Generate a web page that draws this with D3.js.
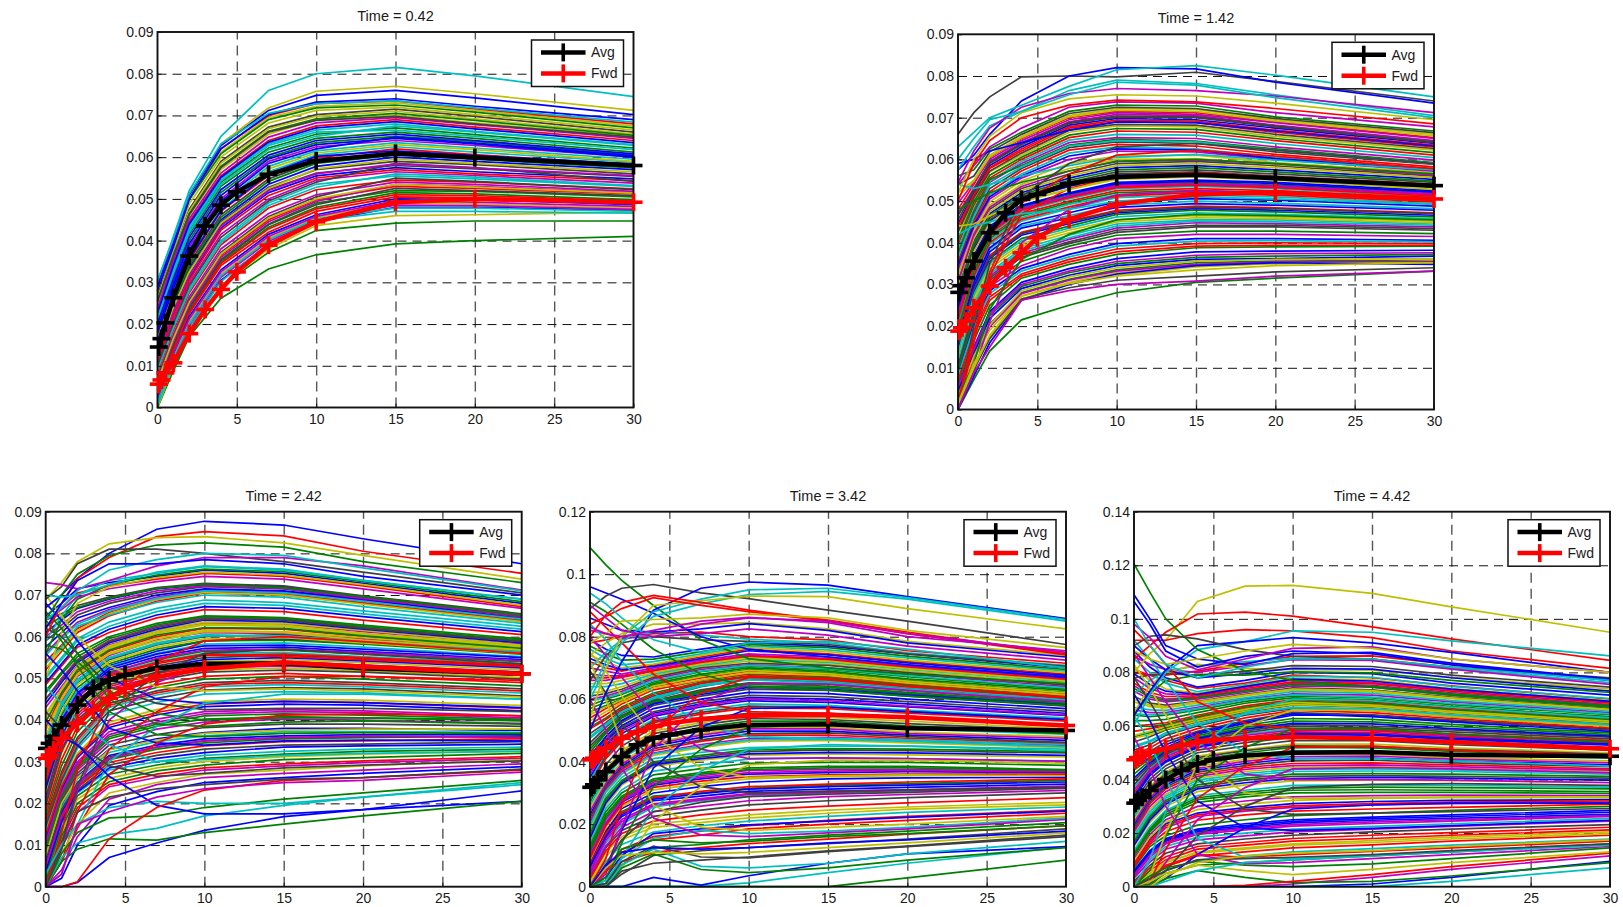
<!DOCTYPE html>
<html>
<head>
<meta charset="utf-8">
<title>Forward curves</title>
<script src="https://cdn.jsdelivr.net/npm/d3@7"></script>
<style>
  body { margin: 0; background: #fff; }
  text { font-family: "Liberation Sans", Arial, sans-serif; font-size: 14px; fill: #1a1a1a; }
  .title { font-size: 14.5px; }
  .grid-h line { stroke: #111; stroke-dasharray: 9 6; stroke-width: 1; }
  .grid-v line { stroke: #555; stroke-dasharray: 10 6; stroke-width: 1.4; }
  .grid-h path, .grid-v path { display: none; }
  .axis path { display: none; }
  .axis line { stroke: #111; }
  .thin { fill: none; stroke-width: 1.7; }
  .frame { fill: none; stroke: #111; stroke-width: 1.9; }
  .legend-box { fill: #fff; stroke: #111; stroke-width: 1.5; }
</style>
</head>
<body>
<svg id="chart" width="1623" height="907"></svg>
<script>
/* five panels of simulated curves, Avg and Fwd on top. thin curves are in units of 1e-4 */

const times = ['0.42', '1.42', '2.42', '3.42', '4.42'];

// maturities of the thick lines and of the thin curves
const avgTenors = [0.08, 0.25, 0.5, 1, 2, 3, 4, 5, 7, 10, 15, 20, 30];
const curveTenors = [0, 1, 2, 4, 7, 10, 15, 20, 30];
const xTicks = [0, 5, 10, 15, 20, 25, 30];

const yTicksA = [0, 0.01, 0.02, 0.03, 0.04, 0.05, 0.06, 0.07, 0.08, 0.09];
const yTicksD = [0, 0.02, 0.04, 0.06, 0.08, 0.1, 0.12];
const yTicksE = [0, 0.02, 0.04, 0.06, 0.08, 0.1, 0.12, 0.14];

const avg1 = [.0145, .0165, .0203, .0263, .0363, .0435, .0485, .0517, .0559, .0591, .0609, .0599, .058];
const fwd1 = [.0056, .0066, .0083, .0107, .0177, .0235, .0283, .0325, .0389, .0445, .0492, .05, .0492];
const avg2 = [.0281, .0297, .0316, .0356, .0424, .0472, .0504, .0516, .0542, .0558, .0563, .0555, .0537];
const fwd2 = [.0188, .0196, .0212, .0244, .0296, .034, .0376, .0412, .0456, .0492, .0516, .0521, .0505];
const avg3 = [.0332, .0344, .036, .0388, .0436, .0476, .0496, .0508, .0524, .0535, .0536, .0524, .0511];
const fwd3 = [.0308, .0316, .0328, .0356, .0392, .0424, .0452, .0476, .0504, .0523, .0538, .0528, .0511];
const avg4 = [.0318, .0326, .0342, .0368, .0416, .0454, .0475, .0486, .0502, .0518, .052, .0507, .05];
const fwd4 = [.0406, .0411, .0422, .0443, .0475, .0496, .0512, .0523, .0536, .0547, .055, .0542, .0516];
const avg5 = [.0312, .0322, .0334, .0359, .04, .0434, .0459, .0474, .049, .05, .0503, .0493, .0487];
const fwd5 = [.0474, .0482, .049, .0503, .0515, .0528, .054, .0549, .0553, .0559, .0553, .054, .0515];

const curves1 = [
[140,245,335,450,535,578,600,590,570],[50,150,240,355,440,490,520,518,505],[230,345,445,555,640,675,690,672,640],
[95,195,285,400,490,535,555,548,530],[180,290,385,500,590,625,640,628,600],[15,120,205,320,405,455,490,488,478],
[270,370,475,590,672,702,715,698,660],[115,225,310,430,515,555,575,565,548],[205,318,415,530,612,645,660,645,612],
[30,135,225,340,420,470,505,503,492],[165,270,360,475,565,605,625,612,588],[75,175,265,380,465,510,540,535,518],
[245,360,460,570,655,690,700,682,650],[130,238,330,445,528,570,590,582,560],[5,105,190,305,390,445,480,480,472],
[195,300,400,515,600,635,650,638,605],[60,162,250,365,450,498,530,525,512],[220,335,435,548,632,665,680,662,630],
[105,210,298,415,500,545,565,556,538],[295,395,505,612,695,722,730,712,675],[150,258,345,462,548,590,610,600,578],
[20,128,218,330,415,462,500,498,486],[212,325,425,540,622,655,670,654,622],[85,185,275,390,478,522,545,540,524],
[172,280,372,488,578,615,635,622,595],[8,112,198,312,398,450,485,484,475],[262,372,470,585,668,698,710,692,655],
[122,230,318,438,522,562,580,572,554],[200,308,408,522,605,640,655,640,608],[40,142,232,348,432,480,515,512,498],
[158,262,352,470,556,598,620,606,582],[90,190,280,395,484,528,560,552,532],[238,352,452,562,648,682,695,678,645],
[135,240,325,442,525,572,595,585,565],[45,148,238,352,438,486,525,520,508],[188,295,392,508,596,630,645,632,600],
[255,366,464,578,662,692,705,688,652],[110,218,305,425,508,550,570,560,544],[215,328,428,544,628,660,665,650,618],
[25,130,212,325,410,458,495,492,482],[170,276,366,482,572,610,630,618,590],[70,168,258,372,458,505,550,542,522],
[225,340,440,552,636,670,685,668,635],[145,252,340,456,542,585,605,595,574],[35,138,228,345,428,476,510,508,495],
[215,322,420,535,618,650,675,660,628],[55,158,245,360,445,494,535,530,515],[280,382,488,600,682,712,720,702,665],
[100,202,292,408,495,540,585,575,542],[160,265,356,472,560,602,615,604,584],[290,390,498,608,690,718,725,708,670],
[300,400,510,620,700,728,735,716,680],[12,118,200,316,402,452,478,478,470],[120,228,315,435,520,560,584,574,556],
[62,165,252,368,454,500,535,528,514],[255,362,462,575,660,688,698,680,648],[178,285,378,495,585,620,648,634,603]
];
const curves1Top = [
[300,410,520,650,760,800,815,795,745],[280,400,505,632,718,758,770,752,712],[290,395,510,628,712,748,760,742,702],
[280,385,500,620,702,732,740,722,690],[305,405,512,632,705,728,735,718,684]
];
const curves1TopColors = ['c', 'y', 'b', 'b', 'c'];
const curves1Low = [
[0,88,170,262,332,366,392,400,410],[0,95,180,290,372,424,442,447,447],[0,100,185,292,380,436,460,462,468],
[5,105,190,302,392,448,470,470,466]
];
const curves1LowColors = ['g', 'g', 'y', 'c'];

const curves2 = [
[250,370,440,490,520,545,550,545,525],[35,130,205,280,312,335,352,356,358],[480,540,605,650,700,715,712,690,652],
[160,300,385,440,465,490,500,495,482],[90,215,295,345,385,410,420,420,415],[410,505,570,610,665,680,678,655,622],
[310,415,480,530,565,590,595,585,560],[60,150,235,305,338,362,378,380,382],[560,575,625,665,715,730,728,702,668],
[205,335,415,470,500,525,530,525,505],[120,255,330,385,418,445,455,455,445],[370,470,545,590,640,652,650,630,598],
[20,120,190,272,305,328,345,350,356],[280,395,460,510,545,570,575,565,545],[445,520,585,630,682,698,695,675,638],
[140,280,355,410,440,468,478,474,462],[75,190,270,325,360,385,398,400,398],[340,445,515,565,615,630,625,605,578],
[225,350,425,480,510,535,540,535,515],[520,550,610,655,705,722,720,695,660],[100,230,310,365,398,425,438,438,430],
[295,405,470,520,555,580,585,575,552],[50,140,225,295,328,350,365,368,372],[395,490,555,600,652,668,665,645,610],
[180,315,395,452,482,508,515,510,494],[470,530,595,640,690,708,705,682,645],[130,270,345,398,430,455,465,462,452],
[355,455,530,578,628,642,638,618,588],[265,385,452,502,535,562,565,555,535],[65,165,250,315,348,372,388,390,392],
[430,512,578,620,675,690,688,665,630],[195,325,405,460,492,515,522,518,500],[110,240,320,375,408,435,448,446,438],
[325,430,498,548,590,608,610,592,568],[540,560,618,660,710,725,722,698,664],[85,205,285,338,372,398,410,410,406],
[240,360,432,485,515,540,545,538,520],[150,290,370,425,452,478,488,484,472],[385,482,548,595,646,660,658,638,604],
[25,125,198,278,310,332,348,354,354],[300,410,475,525,560,585,590,580,556],[455,525,590,635,686,702,700,678,642],
[170,305,388,445,472,498,506,502,488],[95,222,302,355,392,418,428,428,422],[350,448,522,572,622,636,632,612,582],
[210,342,418,475,505,530,535,530,510],[495,545,600,645,695,712,708,688,650],[125,262,338,392,424,450,460,458,448],
[275,390,455,505,540,565,570,560,540],[45,135,218,290,322,345,360,362,368],[405,498,562,605,658,674,672,650,616],
[185,320,400,456,486,512,520,514,498],[80,198,278,332,366,392,404,405,402],[335,438,505,555,600,620,618,600,572],
[255,378,448,498,528,555,560,552,532],[425,508,572,615,670,684,682,660,626],[145,285,362,418,446,472,482,478,466],
[375,476,552,585,634,648,644,625,592],[215,345,422,478,508,532,538,532,512],[115,248,325,380,412,440,452,450,442],
[55,145,230,300,332,355,370,374,376],[320,425,490,540,578,600,602,588,564],[465,528,592,638,688,704,702,680,640],
[165,295,378,435,460,485,494,490,478],[285,400,465,515,550,575,580,570,548],[70,178,262,320,354,378,392,394,394],
[365,462,538,582,632,645,642,622,590],[235,355,428,482,512,538,542,536,518],[510,548,606,652,702,718,715,692,656],
[105,235,315,370,402,430,442,442,434],[345,442,510,560,608,625,622,602,575],[190,330,410,465,496,520,525,520,502],
[440,515,580,625,678,694,692,670,634],[135,275,350,405,435,462,472,468,458],[305,420,485,535,572,595,598,590,562],
[30,128,202,285,318,340,356,360,362],[155,288,366,422,450,475,485,482,470],[245,365,436,488,518,542,548,542,522],
[480,500,520,545,572,595,600,590,565],[0,160,320,470,530,560,568,558,540],[540,530,540,560,585,605,612,598,575],
[10,90,210,400,480,515,525,520,505],[440,445,465,500,528,552,558,550,528],[5,200,350,510,590,630,638,622,590],
[590,600,620,640,670,690,688,668,632],[30,110,240,360,420,455,468,465,455],[15,180,330,495,565,610,622,608,578],
[420,440,450,470,480,500,510,505,492],[540,585,630,675,725,738,735,712,678],[15,110,175,265,300,322,342,350,352]
];
const curves2Top = [
[660,712,750,798,800,798,809,787,740],[575,610,660,740,800,820,817,785,735],[630,665,700,730,775,815,825,802,750],
[575,630,680,715,765,790,782,755,705],[545,620,675,725,758,770,765,752,712],[520,600,655,712,745,755,752,735,695],
[600,650,695,715,755,785,778,748,700],[500,590,645,700,730,742,738,722,685]
];
const curves2TopColors = ['k', 'b', 'c', 'c', 'm', 'y', 'c', 'r'];
const curves2Low = [
[0,72,140,215,250,280,305,315,332],[0,80,160,262,300,325,345,352,348],[8,95,170,265,292,310,320,330,340],
[12,100,178,272,302,320,335,345,352],[0,88,150,262,285,300,308,320,332]
];
const curves2LowColors = ['g', 'b', 'k', 'y', 'm'];

const curves3 = [
[300,410,465,530,565,590,595,585,560],[60,180,240,305,330,345,355,358,362],[520,565,610,650,685,705,700,680,640],
[150,260,345,430,460,480,485,480,465],[450,500,545,590,625,645,642,622,590],[20,130,210,260,285,300,312,318,325],
[240,380,450,500,530,550,555,548,530],[610,640,668,690,715,725,720,695,650],[100,220,290,360,390,410,415,412,402],
[380,460,515,565,600,620,618,600,568],[30,150,225,280,300,315,325,330,335],[560,600,635,665,695,712,708,688,645],
[190,320,400,470,500,520,525,518,502],[340,430,490,545,580,600,605,592,565],[80,195,265,330,355,370,380,380,375],
[470,515,560,600,632,650,646,628,595],[10,110,190,245,270,285,295,302,312],[260,370,445,510,540,560,562,552,535],
[430,480,530,580,612,632,630,612,582],[130,245,320,395,425,445,450,448,435],[590,620,652,680,705,720,715,692,648],
[55,175,250,315,340,355,362,365,365],[320,415,478,535,570,590,592,582,558],[210,340,415,480,512,530,535,528,512],
[500,545,590,625,660,680,675,655,618],[110,230,300,372,402,420,425,422,410],[400,470,525,572,608,628,625,605,575],
[40,160,232,292,315,330,340,342,348],[280,395,455,520,552,572,575,565,545],[170,290,372,448,478,498,505,498,482],
[540,580,620,658,690,708,702,682,638],[70,190,258,322,348,362,372,372,370],[360,445,505,555,592,610,608,595,566],
[225,350,430,490,520,540,545,538,520],[640,655,675,695,718,728,722,698,655],[120,235,310,382,412,432,438,436,422],
[15,120,200,252,278,292,305,310,320],[485,530,575,610,645,665,660,640,605],[310,405,472,528,560,582,585,575,552],
[95,210,280,348,378,395,402,400,392],[415,472,520,575,615,635,632,615,580],[160,275,358,440,470,490,495,490,475],
[575,610,645,670,700,715,710,690,642],[270,385,455,515,545,565,568,558,540],[45,165,238,298,322,338,348,350,355],
[350,440,498,550,585,605,600,590,562],[200,330,408,475,505,525,530,522,508],[525,570,615,655,690,706,700,678,636],
[85,205,272,340,365,382,390,390,385],[440,490,538,585,618,640,636,618,585],[25,140,218,270,292,308,318,325,330],
[250,375,448,505,535,555,558,550,532],[140,250,332,412,442,462,468,465,450],[600,628,660,685,710,722,716,692,650],
[375,452,510,560,596,615,612,598,570],[65,185,248,312,335,350,358,360,360],[295,400,462,525,558,578,580,570,550],
[465,510,552,595,628,648,644,625,592],[180,305,385,455,485,505,512,505,490],[505,550,595,635,668,688,682,662,625],
[105,225,295,365,395,415,420,418,405],[330,420,485,540,575,595,598,585,560],[215,345,422,485,515,535,540,532,515],
[35,155,228,285,308,322,335,338,342],[395,465,520,568,604,622,620,602,572],[125,240,315,388,418,438,445,442,428],
[555,595,630,662,692,710,705,685,642],[285,390,458,512,548,568,570,562,542],[75,200,262,328,352,368,376,378,378],
[450,495,542,588,622,642,640,620,588],[235,360,438,495,525,545,550,542,525],[625,648,670,692,716,726,718,696,652],
[155,268,352,435,465,485,490,485,470],[345,435,492,548,582,602,602,588,564],[5,100,178,240,262,280,290,298,308],
[410,475,528,578,612,630,628,608,578],[195,325,402,462,495,515,520,515,498],[490,535,580,618,652,672,668,648,612],
[90,215,285,355,385,402,408,405,398],[265,378,440,508,538,558,552,545,528],[535,575,625,652,682,700,695,672,632],
[50,170,245,308,335,350,358,362,358],[360,450,508,558,590,612,610,592,568],[145,255,338,422,452,472,478,475,458],
[650,680,715,730,745,760,752,728,680],[560,640,690,725,748,762,756,732,684],[620,670,705,722,738,752,745,722,672],
[590,650,700,735,752,768,760,735,690],[640,665,695,715,732,745,738,715,668],[500,610,680,720,742,755,748,725,676],
[620,600,560,480,440,425,428,428,420],[680,640,590,500,450,440,445,442,430],[580,570,540,470,415,400,405,405,400],
[0,60,180,330,420,480,505,505,495],[0,30,150,300,385,440,462,462,450],[0,90,230,400,490,530,540,532,515],
[700,650,600,530,480,470,475,470,455],[10,100,240,420,510,560,570,558,535],[560,520,470,380,345,340,350,352,350],
[640,590,530,420,365,360,368,370,368],[0,60,140,270,345,390,412,415,410],[480,440,400,340,300,305,315,320,325],
[0,40,120,210,245,262,272,280,295],[5,80,150,225,250,270,280,290,305],[420,380,340,290,265,272,285,292,302],
[0,20,100,195,228,250,262,272,288],[660,620,560,450,390,385,395,398,390],[0,130,280,450,540,590,600,588,560]
];
const curves3Top = [
[670,700,740,800,858,877,868,835,775],[600,680,740,790,840,852,842,805,752],[690,730,780,823,838,840,825,795,738],
[640,700,750,795,820,825,815,780,730],[690,720,775,810,810,800,780,755,705],[730,725,715,735,770,790,790,770,712],
[640,670,710,760,785,800,795,765,710],[620,680,735,775,775,785,775,745,700],[700,695,700,725,755,770,762,735,690]
];
const curves3TopColors = ['b', 'r', 'y', 'g', 'k', 'm', 'c', 'b', 'c'];
const curves3Low = [
[0,0,10,70,105,135,168,185,205],[0,60,90,115,112,130,150,170,205],[0,70,105,125,140,170,195,215,245],
[0,80,130,165,170,190,210,225,255],[30,100,150,190,205,200,200,215,250],[400,360,340,265,195,175,175,185,230],
[0,0,12,115,190,232,255,262,280],[0,30,150,180,215,235,250,255,275],[0,90,180,215,235,245,258,262,282]
];
const curves3LowColors = ['b', 'g', 'c', 'g', 'c', 'b', 'r', 'm', 'k'];

const curves4 = [
[400,480,530,590,625,650,650,630,600],[80,180,240,290,300,315,325,330,340],[720,700,690,710,735,760,745,720,680],
[180,290,350,410,430,445,450,450,440],[600,610,625,665,695,710,700,680,640],[20,110,160,200,215,230,245,255,270],
[300,390,450,510,540,555,555,540,515],[790,760,740,735,760,780,770,745,700],[120,230,290,345,365,380,385,385,375],
[520,550,585,630,660,680,672,648,610],[40,140,200,255,275,290,300,305,315],[660,660,670,690,715,735,725,700,660],
[250,340,400,460,490,510,510,495,480],[460,510,555,600,640,665,655,635,595],[95,200,270,325,345,360,365,368,365],
[570,590,605,650,680,700,690,665,628],[0,50,110,150,165,185,200,212,235],[340,425,480,535,565,585,580,565,540],
[700,690,680,700,725,745,735,710,672],[150,260,325,385,405,420,425,422,415],[490,525,565,610,650,670,662,640,602],
[60,165,225,275,290,305,312,318,328],[430,490,540,590,620,642,638,618,585],[210,315,375,435,465,485,485,475,458],
[760,730,710,720,745,770,758,732,690],[110,215,280,335,355,372,375,375,370],[620,625,640,675,705,722,712,690,650],
[30,125,180,225,245,262,275,285,300],[370,450,505,555,585,605,600,585,555],[270,360,420,480,510,530,530,515,495],
[540,570,595,640,668,690,680,655,618],[10,80,135,175,195,210,225,238,255],[680,675,675,695,720,740,730,705,668],
[190,300,360,420,445,465,468,460,445],[450,500,548,595,630,652,648,628,590],[75,175,250,300,320,335,345,348,350],
[580,600,615,655,688,705,695,672,632],[320,410,465,525,552,572,570,555,530],[140,250,310,370,390,408,412,410,400],
[50,155,215,265,282,298,306,310,322],[740,720,700,712,740,765,752,725,685],[410,470,525,580,610,632,628,610,578],
[230,325,385,450,478,498,498,485,468],[510,540,575,620,655,675,668,645,606],[5,60,120,160,178,195,212,225,245],
[640,640,650,680,708,728,718,695,655],[100,205,275,330,350,365,370,372,368],[290,375,435,498,525,545,542,530,505],
[165,275,335,395,415,432,438,435,428],[350,435,490,545,575,595,590,575,548],[560,580,600,645,675,695,685,660,622],
[25,115,170,210,230,245,258,268,285],[480,520,560,605,645,668,658,638,598],[205,310,368,428,455,475,478,470,452],
[85,190,255,310,330,345,352,355,358],[610,618,632,670,700,715,708,685,645],[390,465,515,570,600,622,618,600,570],
[130,240,300,358,378,395,398,398,388],[670,668,672,692,718,738,728,702,664],[260,350,410,470,500,520,520,505,488],
[45,148,208,260,278,295,302,308,318],[530,560,590,635,662,685,676,652,614],[330,418,472,530,558,578,575,560,535],
[155,268,330,390,410,425,430,428,420],[440,495,545,592,625,648,642,622,588],[70,170,235,285,305,320,328,335,345],
[595,605,620,660,690,708,698,675,636],[240,330,392,455,485,505,505,490,475],[15,95,150,190,205,220,235,248,262],
[380,455,510,560,592,612,608,592,562],[730,710,695,705,730,755,742,716,676],[115,222,285,340,360,375,380,380,372],
[505,535,570,615,652,672,665,642,604],[195,305,362,425,450,470,472,465,448],[35,130,190,240,258,275,288,295,308],
[650,650,660,685,712,732,722,698,658],[280,368,428,490,518,538,535,522,500],[420,480,532,585,615,638,632,614,582],
[170,282,340,400,420,438,442,440,432],[90,195,262,318,338,352,358,360,360],[475,515,558,602,642,662,652,632,592],
[360,442,498,550,580,600,595,578,550],[550,575,598,642,672,692,682,658,620],[220,320,380,442,470,490,492,480,462],
[65,160,230,280,298,312,320,325,335],[770,745,725,728,752,775,765,738,695],
[780,790,800,810,815,800,790,755,715],[700,750,790,815,805,792,780,748,708],[820,810,795,800,810,825,805,770,725],
[740,780,810,840,840,845,825,785,740],[660,740,780,800,790,785,775,745,705],[860,840,820,815,825,842,820,780,735],
[910,880,840,760,680,640,630,610,580],[880,830,780,680,590,560,555,540,515],[840,790,720,620,520,480,475,470,455],
[800,740,670,550,440,410,412,410,402],[750,690,610,480,380,350,355,358,355],[690,620,520,400,320,300,305,310,318],
[0,60,180,380,510,570,575,560,535],[0,20,140,320,440,510,520,510,490],[0,90,260,500,620,670,662,640,605],
[0,10,90,250,370,440,455,450,435],[0,40,190,440,590,650,648,628,592],[0,0,60,210,320,390,405,405,395],
[0,70,150,240,270,288,296,302,315],[0,30,100,170,185,198,210,222,242],[0,10,70,125,135,150,165,178,205],
[0,50,80,110,125,138,152,168,195],[0,20,90,155,180,170,178,190,220],[600,500,380,220,165,160,172,185,215],
[720,600,460,260,190,180,190,200,225],[0,0,40,100,115,125,138,152,185]
];
const curves4Top = [
[1085,1030,980,900,790,730,700,680,650],[960,940,920,875,800,760,735,710,670],[890,930,955,967,940,922,885,850,775],
[500,620,720,885,955,975,965,928,858],[620,720,800,880,920,950,955,925,855],[600,700,780,865,905,935,945,920,850],
[540,700,800,900,915,930,928,890,825],[800,870,910,932,910,885,853,815,745],[840,865,890,925,900,880,850,810,742],
[940,905,860,790,750,780,785,760,700],[900,860,820,800,840,860,850,810,750],[780,810,850,855,860,872,860,820,765],
[830,810,800,820,850,862,845,800,755]
];
const curves4TopColors = ['g', 'b', 'k', 'b', 'c', 'c', 'y', 'r', 'r', 'c', 'm', 'y', 'm'];
const curves4Low = [
[0,0,0,0,0,0,0,28,85],[0,0,0,0,2,12,45,75,127],[0,0,0,30,5,35,75,105,128],[0,0,60,105,55,45,60,85,125],
[0,0,70,120,65,60,75,105,145],[0,0,50,75,85,95,115,130,165],[0,10,80,130,95,92,112,128,160],
[0,60,100,110,105,110,125,140,172],[0,70,110,125,120,125,140,150,178],[0,30,120,150,140,145,160,170,195]
];
const curves4LowColors = ['g', 'c', 'b', 'g', 'c', 'k', 'k', 'y', 'b', 'g'];

const curves5 = [
[450,480,520,570,610,640,640,620,590],[70,150,190,230,250,265,275,285,300],[810,790,770,740,760,790,780,750,700],
[180,270,330,390,415,430,432,430,420],[660,650,650,670,700,720,715,690,650],[0,40,90,130,145,160,172,185,205],
[300,390,440,500,525,545,545,530,510],[880,820,780,745,770,800,795,760,715],[120,210,270,325,345,360,362,360,355],
[580,590,600,630,665,690,680,655,620],[30,100,150,185,200,215,225,235,255],[730,700,690,700,725,750,745,715,672],
[250,340,395,450,475,495,495,482,470],[510,530,565,600,640,665,658,635,600],[90,180,235,275,295,310,318,322,325],
[620,620,625,650,685,705,698,672,635],[10,60,100,140,155,170,180,192,212],[370,440,490,540,570,590,588,570,545],
[780,740,720,715,745,772,762,735,690],[150,240,300,355,380,395,398,396,390],[540,560,585,615,652,678,670,648,610],
[50,125,170,205,222,238,248,255,270],[420,470,510,558,595,618,615,598,568],[210,310,365,420,445,460,462,455,440],
[850,800,760,728,755,785,782,748,702],[105,195,250,300,320,335,340,342,340],[690,672,668,685,712,735,728,702,660],
[20,80,125,160,178,192,205,215,232],[330,415,465,520,548,568,566,550,528],[270,360,415,475,500,520,518,505,490],
[600,605,612,640,675,698,690,665,628],[0,20,60,100,115,130,142,155,178],[750,715,700,708,735,760,752,725,680],
[195,290,345,405,430,445,448,442,430],[480,505,540,580,620,650,642,622,585],[60,135,180,215,235,250,260,268,285],
[640,635,640,660,692,712,705,680,642],[350,430,478,530,558,578,575,560,535],[135,225,285,340,360,378,380,378,372],
[40,110,160,195,212,226,236,245,262],[820,770,738,722,750,778,772,740,695],[395,455,500,550,582,605,600,585,558],
[230,325,380,435,460,478,480,470,455],[560,575,592,622,658,684,675,652,615],[0,30,75,115,130,145,156,170,192],
[670,660,658,678,705,728,722,695,655],[80,165,220,262,282,296,305,310,315],[285,375,428,488,512,532,532,518,500],
[165,255,315,372,398,412,415,412,405],[340,422,470,525,552,572,570,555,532],[600,598,605,635,670,692,685,660,624],
[15,70,112,150,165,180,192,202,222],[525,545,575,608,646,670,664,642,605],[205,300,355,412,438,452,455,448,435],
[95,185,242,288,308,322,330,332,332],[710,685,678,692,718,742,735,708,665],[405,462,505,554,588,610,608,590,562],
[125,215,278,332,352,368,372,370,365],[760,725,710,712,740,765,758,730,685],[260,350,405,462,488,508,506,492,480],
[45,118,165,200,218,232,242,250,265],[565,580,598,626,662,688,678,655,618],[315,402,452,510,538,558,555,540,518],
[155,248,308,365,388,404,408,405,398],[435,478,515,564,602,628,625,606,574],[75,158,205,248,268,282,290,296,308],
[645,642,645,665,698,716,708,684,645],[240,332,388,442,468,486,488,476,462],[5,50,95,125,140,155,165,178,198],
[380,448,495,545,575,598,594,578,552],[795,755,730,718,748,775,768,738,692],[115,205,262,315,335,350,352,352,348],
[495,518,552,590,630,658,650,628,592],[190,280,338,398,422,438,440,436,425],[35,92,140,175,190,205,215,225,245],
[700,678,672,690,715,738,732,705,662],[275,368,422,482,508,526,524,512,495],[465,492,530,575,615,645,635,615,580],
[170,262,322,380,405,420,422,420,412],[85,172,228,268,288,302,310,316,320],[520,540,570,605,645,668,662,640,602],
[360,435,485,535,565,585,582,565,540],[555,568,588,618,655,680,672,650,612],[220,318,372,428,452,470,472,462,448],
[55,128,175,210,228,244,254,262,278],[740,708,695,705,730,755,748,720,676],
[800,790,790,805,835,860,862,830,775],[720,770,805,825,840,852,850,815,762],[860,830,810,800,825,848,845,812,755],
[650,750,800,830,815,810,808,782,738],[780,790,795,790,805,825,822,790,745],[900,850,810,780,795,815,812,780,730],
[640,720,770,790,790,802,798,770,725],[960,900,830,690,610,590,585,570,545],[920,850,770,610,500,480,478,470,450],
[870,780,690,540,420,400,400,398,388],[830,740,640,470,350,330,332,335,335],[780,690,590,400,290,270,275,280,292],
[720,620,500,320,220,210,218,228,248],[0,60,190,400,520,590,590,570,540],[0,20,140,330,450,520,525,510,490],
[0,100,280,520,650,700,695,670,630],[0,10,90,250,370,440,445,440,425],[0,40,200,460,600,660,658,635,598],
[0,0,60,190,300,370,382,385,378],[0,0,30,120,220,290,305,312,312],[0,10,50,80,90,100,115,130,160],
[0,30,80,120,110,120,132,145,170],[640,540,400,180,110,105,118,130,158],[560,440,300,120,85,90,105,120,150]
];
const curves5Top = [
[800,870,920,1065,1122,1125,1095,1045,950],[850,900,950,1018,1025,1010,970,925,845],[920,920,920,945,960,955,930,880,815],
[600,720,800,885,915,955,950,918,862],[640,730,810,900,915,930,910,875,800],[1205,1100,1000,885,805,770,745,715,670],
[900,935,940,925,885,860,850,820,780],[1090,1000,900,850,830,870,875,835,775],[1065,980,880,820,860,880,870,828,770],
[980,930,860,810,850,890,895,850,800],[880,850,830,850,880,905,890,850,800],[1000,900,830,780,820,850,850,820,770]
];
const curves5TopColors = ['y', 'r', 'r', 'c', 'b', 'g', 'k', 'b', 'b', 'm', 'y', 'c'];
const curves5Low = [
[0,0,0,0,0,10,35,65,115],[0,0,0,0,0,0,10,35,95],[0,0,0,0,0,0,0,20,70],[0,0,30,60,35,15,20,40,90],
[0,0,0,0,5,20,45,75,125],[0,20,50,80,60,45,65,90,130],[0,40,70,95,80,75,85,105,145],
[0,0,20,60,90,100,115,130,155],[0,30,60,100,105,110,120,135,160],[0,0,40,90,115,125,135,150,175]
];
const curves5LowColors = ['m', 'b', 'c', 'g', 'r', 'y', 'g', 'c', 'k', 'y'];

const colorCycle = ['b', 'g', 'r', 'c', 'm', 'y', 'k'];
const lineColors = { b: '#0000ff', g: '#008000', r: '#ff0000', c: '#00bfbf', m: '#bf00bf', y: '#bfbf00', k: '#404040' };

// plot rectangles: left, right, top, bottom
const plotBoxes = [
  [157.5, 633.5, 32, 407.5],
  [958, 1434, 34.3, 409.5],
  [45.7, 521.7, 511.7, 886.7],
  [590, 1066, 511.7, 886.7],
  [1134, 1610, 511.7, 886.7],
];

const panels = [
  { time: times[0], yMax: 0.09, yTicks: yTicksA, avg: avg1, fwd: fwd1, curves: curves1, extras: [[curves1Top, curves1TopColors], [curves1Low, curves1LowColors]] },
  { time: times[1], yMax: 0.09, yTicks: yTicksA, avg: avg2, fwd: fwd2, curves: curves2, extras: [[curves2Top, curves2TopColors], [curves2Low, curves2LowColors]] },
  { time: times[2], yMax: 0.09, yTicks: yTicksA, avg: avg3, fwd: fwd3, curves: curves3, extras: [[curves3Top, curves3TopColors], [curves3Low, curves3LowColors]] },
  { time: times[3], yMax: 0.12, yTicks: yTicksD, avg: avg4, fwd: fwd4, curves: curves4, extras: [[curves4Top, curves4TopColors], [curves4Low, curves4LowColors]] },
  { time: times[4], yMax: 0.14, yTicks: yTicksE, avg: avg5, fwd: fwd5, curves: curves5, extras: [[curves5Top, curves5TopColors], [curves5Low, curves5LowColors]] },
];

const svg = d3.select('#chart');

function drawThick(g, x, y, values, color) {
  const line = d3.line().x((d, i) => x(avgTenors[i])).y((d) => y(d));
  g.append('path').datum(values)
    .attr('d', line)
    .attr('fill', 'none')
    .attr('stroke', color)
    .attr('stroke-width', 4.5);
  g.selectAll(null).data(values).join('g')
    .attr('transform', (d, i) => `translate(${x(avgTenors[i])},${y(d)})`)
    .each(function () {
      const m = d3.select(this);
      m.append('line').attr('x1', -9).attr('x2', 9).attr('stroke', color).attr('stroke-width', 3.6);
      m.append('line').attr('y1', -9).attr('y2', 9).attr('stroke', color).attr('stroke-width', 3.6);
    });
}

function drawLegend(g, right, top) {
  const w = 92;
  const bx = right - 10 - w;
  const by = top + 8;
  g.append('rect').attr('class', 'legend-box')
    .attr('x', bx).attr('y', by).attr('width', w).attr('height', 46.5);
  [['Avg', '#000', 12.4], ['Fwd', '#f00', 33.4]].forEach(([label, color, dy]) => {
    const x0 = bx + 9.5;
    const x1 = x0 + 44.5;
    g.append('line').attr('x1', x0).attr('x2', x1).attr('y1', by + dy).attr('y2', by + dy)
      .attr('stroke', color).attr('stroke-width', 4.5);
    g.append('line').attr('x1', (x0 + x1) / 2).attr('x2', (x0 + x1) / 2)
      .attr('y1', by + dy - 9).attr('y2', by + dy + 9)
      .attr('stroke', color).attr('stroke-width', 3.6);
    g.append('text').attr('x', x1 + 5.5).attr('y', by + dy + 5).text(label);
  });
}

panels.forEach((p, n) => {
  const [left, right, top, bottom] = plotBoxes[n];
  const x = d3.scaleLinear().domain([0, 30]).range([left, right]);
  const y = d3.scaleLinear().domain([0, p.yMax]).range([bottom, top]);
  const g = svg.append('g');

  g.append('g').attr('class', 'grid-v')
    .attr('transform', `translate(0,${bottom})`)
    .call(d3.axisBottom(x).tickValues(xTicks.slice(1, -1)).tickSize(top - bottom).tickFormat(''));
  g.append('g').attr('class', 'grid-h')
    .attr('transform', `translate(${left},0)`)
    .call(d3.axisLeft(y).tickValues(p.yTicks.slice(1, -1)).tickSize(left - right).tickFormat(''));

  const line = d3.line()
    .x((d, i) => x(curveTenors[i]))
    .y((d) => y(d / 10000));

  g.append('g').selectAll('path').data(p.curves).join('path')
    .attr('class', 'thin')
    .attr('d', line)
    .attr('stroke', (d, i) => lineColors[colorCycle[i % 7]]);

  p.extras.forEach(([rows, colors]) => {
    g.append('g').selectAll('path').data(rows).join('path')
      .attr('class', 'thin')
      .attr('d', line)
      .attr('stroke', (d, i) => lineColors[colors[i]]);
  });

  g.append('rect').attr('class', 'frame')
    .attr('x', left).attr('y', top).attr('width', right - left).attr('height', bottom - top);

  const fmt = (d) => String(d);
  const xAxis = g.append('g').attr('class', 'axis')
    .attr('transform', `translate(0,${bottom})`)
    .call(d3.axisBottom(x).tickValues(xTicks).tickSize(-4).tickFormat(fmt));
  const yAxis = g.append('g').attr('class', 'axis')
    .attr('transform', `translate(${left},0)`)
    .call(d3.axisLeft(y).tickValues(p.yTicks).tickSize(-4).tickFormat(fmt));
  // negative tick size pulls the labels inside, so push them back out
  xAxis.selectAll('text').attr('font-size', null).attr('y', 6.7);
  yAxis.selectAll('text').attr('font-size', null).attr('x', -4);

  g.append('text').attr('class', 'title')
    .attr('x', (left + right) / 2).attr('y', top - 11)
    .attr('text-anchor', 'middle').text(`Time = ${p.time}`);

  drawThick(g, x, y, p.avg, '#000');
  drawThick(g, x, y, p.fwd, '#f00');
  drawLegend(g, right, top);
});
</script>
</body>
</html>
